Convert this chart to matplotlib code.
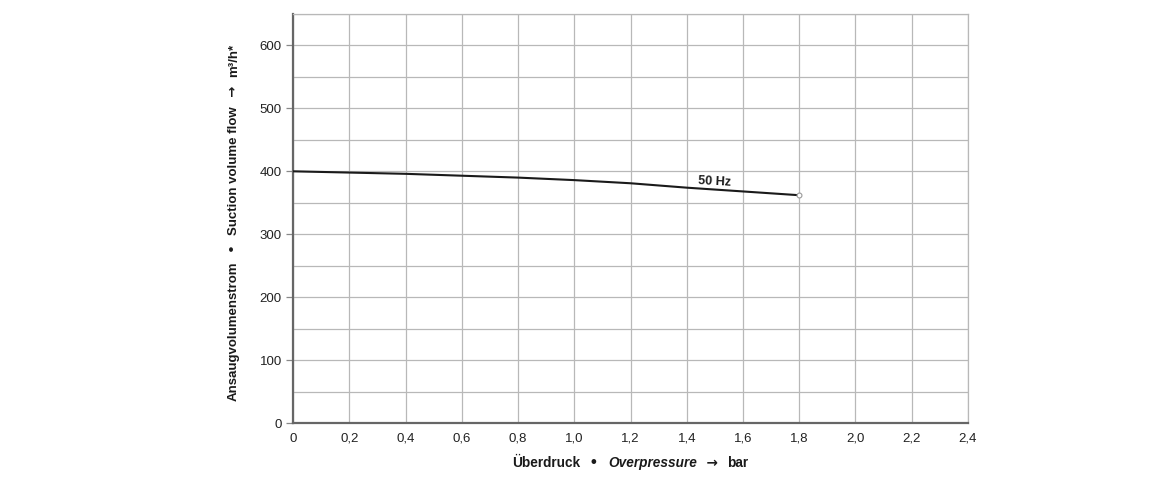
import matplotlib
matplotlib.use("Agg")
import matplotlib.pyplot as plt
import numpy as np
from matplotlib.ticker import MultipleLocator, FixedLocator

plt.rcParams['font.family'] = ['Liberation Sans', 'DejaVu Sans']

# Data
pressure_bar = [0.0, 0.2, 0.4, 0.6, 0.8, 1.0, 1.2, 1.4, 1.6, 1.8]
flow_50hz = [400, 398, 396, 393, 390, 386, 381, 374, 368, 362]
x_ticks = [0.0, 0.2, 0.4, 0.6, 0.8, 1.0, 1.2, 1.4, 1.6, 1.8, 2.0, 2.2, 2.4]
x_tick_labels = ["0", "0,2", "0,4", "0,6", "0,8", "1,0", "1,2", "1,4", "1,6", "1,8", "2,0", "2,2", "2,4"]
y_ticks = [0, 100, 200, 300, 400, 500, 600]
series_label = "50 Hz"

fig = plt.figure(figsize=(11.6, 4.8), dpi=100)
ax = fig.add_axes([293/1160, 57/480, (968-293)/1160, (423-14)/480])

ax.set_xlim(0, 2.4)
ax.set_ylim(0, 650)

grid_c = '#b8b8b8'
ax.xaxis.set_major_locator(FixedLocator(x_ticks))
ax.set_xticklabels(x_tick_labels)
ax.yaxis.set_major_locator(FixedLocator(y_ticks))
ax.yaxis.set_minor_locator(MultipleLocator(50))
ax.grid(True, which='major', color=grid_c, lw=0.9)
ax.grid(True, which='minor', axis='y', color=grid_c, lw=0.9)
ax.set_axisbelow(True)

for s in ['top', 'right']:
    ax.spines[s].set_color(grid_c)
    ax.spines[s].set_linewidth(0.9)
for s in ['left', 'bottom']:
    ax.spines[s].set_color('#666666')
    ax.spines[s].set_linewidth(1.6)

ax.tick_params(axis='y', which='major', length=5, width=0.9, color='#888888',
               labelsize=9.5, labelcolor='#222222', pad=3)
ax.tick_params(axis='y', which='minor', length=0)
ax.tick_params(axis='x', which='major', length=0, labelsize=9.5,
               labelcolor='#222222', pad=7)

ax.plot(pressure_bar, flow_50hz, color='#1a1a1a', lw=1.5, zorder=3)
ax.plot([pressure_bar[-1]], [flow_50hz[-1]], marker='o', ms=3.5, mfc='white',
        mec='#999999', mew=0.8, zorder=4, ls='none')

ax.text(1.5, 384, series_label, fontsize=9, fontweight='bold', color='#1a1a1a',
        ha='center', va='center', rotation=-3)

fig.canvas.draw()
renderer = fig.canvas.get_renderer()

def mixed_text(parts, cx, cy, size, rotation=0):
    texts = []
    for s, st in parts:
        fam = ['DejaVu Sans'] if s.strip() in ('→', '•') else ['Liberation Sans', 'DejaVu Sans']
        t = fig.text(0, 0, s, fontsize=size, fontweight='bold', style=st,
                     color='#1a1a1a', ha='left', va='baseline',
                     rotation=rotation, family=fam)
        texts.append(t)
    widths = []
    for t in texts:
        bb = t.get_window_extent(renderer)
        widths.append(bb.height if rotation else bb.width)
    total = sum(widths)
    pos = (cx - total / 2) if not rotation else (cy - total / 2)
    for t, w in zip(texts, widths):
        if rotation:
            t.set_position((cx / 1160, pos / 480))
            t.set_rotation_mode('anchor')
        else:
            t.set_position((pos / 1160, cy / 480))
        pos += w
    return texts

mixed_text([("Überdruck", 'normal'), ("  •  ", 'normal'), ("Overpressure", 'italic'),
            ("  →  ", 'normal'), ("bar", 'normal')], 630.5, 13, 9.8)
mixed_text([("Ansaugvolumenstrom", 'normal'), ("  •  ", 'normal'),
            ("Suction volume flow", 'normal'), ("  →  ", 'normal'), ("m³/h*", 'normal')],
           237, 257.5, 9.5, rotation=90)

fig.savefig("out.png", dpi=100)
